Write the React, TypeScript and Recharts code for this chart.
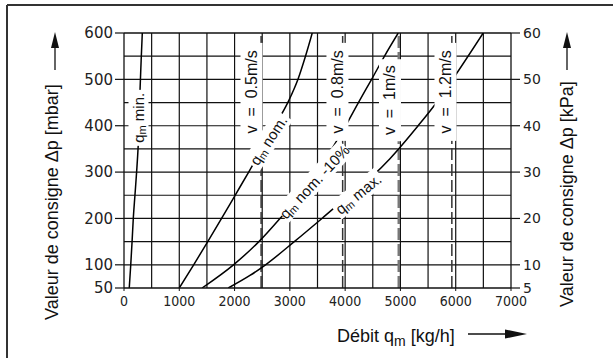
import React from 'react';
import { LineChart, Line, XAxis, YAxis, ReferenceLine, ReferenceDot } from 'recharts';

// axis ticks
const xTicks = [0, 1000, 2000, 3000, 4000, 5000, 6000, 7000];
const mbarTicks = [50, 100, 200, 300, 400, 500, 600];
const kpaTicks = [5, 10, 20, 30, 40, 50, 60];
const gridX = [500, 1000, 1500, 2000, 2500, 3000, 3500, 4000, 4500, 5000, 5500, 6000, 6500];
const gridY = [100, 150, 200, 250, 300, 350, 400, 450, 500, 550];

// curves: q = flow [kg/h], p = set point [mbar]
const qMin = [
  { q: 95, p: 50 }, { q: 122, p: 100 }, { q: 146, p: 150 }, { q: 168, p: 200 },
  { q: 198, p: 250 }, { q: 228, p: 300 }, { q: 256, p: 355 }, { q: 275, p: 410 },
  { q: 290, p: 477 }, { q: 310, p: 540 }, { q: 331, p: 600 },
];
const qNom = [
  { q: 1000, p: 50 }, { q: 1260, p: 100 }, { q: 1515, p: 150 }, { q: 1765, p: 200 },
  { q: 2010, p: 250 }, { q: 2255, p: 300 }, { q: 2495, p: 350 }, { q: 2730, p: 400 },
  { q: 2971, p: 452 }, { q: 3152, p: 502 }, { q: 3288, p: 552 }, { q: 3405, p: 600 },
];
const qNom10 = [
  { q: 1412, p: 50 }, { q: 1980, p: 100 }, { q: 2440, p: 150 }, { q: 2821, p: 200 },
  { q: 3180, p: 250 }, { q: 3490, p: 300 }, { q: 3760, p: 350 }, { q: 4010, p: 400 },
  { q: 4250, p: 452 }, { q: 4479, p: 500 }, { q: 4720, p: 552 }, { q: 4960, p: 600 },
];
const qMax = [
  { q: 1886, p: 50 }, { q: 2278, p: 77 }, { q: 2560, p: 100 }, { q: 3080, p: 150 },
  { q: 3580, p: 200 }, { q: 4070, p: 250 }, { q: 4508, p: 293 }, { q: 4810, p: 329 },
  { q: 5320, p: 400 }, { q: 5640, p: 448 }, { q: 5955, p: 502 }, { q: 6497, p: 600 },
];

// velocity lines
const velocityQ = [2480, 3955, 4970, 5930];
const velocityText = ['0.5m/s', '0.8m/s', '1m/s', '1.2m/s'];

// annotation anchors (data coords) for the curve labels
const curveLabels = [
  { q: 262, p: 417, rest: ' min.', angle: -90, w: 56 },
  { q: 2604, p: 369, rest: ' nom.', angle: -57, w: 60 },
  { q: 3436, p: 280, rest: ' nom. -10%', angle: -47, w: 94 },
  { q: 4232, p: 254, rest: ' max.', angle: -39, w: 58 },
];
const velocityLabels = [
  { q: 2306, p: 473, len: 98 },
  { q: 3861, p: 473, len: 98 },
  { q: 4811, p: 455, len: 82 },
  { q: 5815, p: 473, len: 98 },
];

const SANS = '"Liberation Sans", Arial, sans-serif';

const CurveLabel = ({ cx, cy, rest, angle, w }: any) => (
  <g transform={`translate(${cx},${cy}) rotate(${angle})`}>
    <rect x={-w / 2} y={-10} width={w} height={20} fill="#fff" />
    <text x={0} y={0} textAnchor="middle" dominantBaseline="central" fontFamily={SANS} fontSize={15} fill="#111">
      <tspan>q</tspan>
      <tspan dy={4} fontSize={11}>m</tspan>
      <tspan dy={-4}>{rest}</tspan>
    </text>
  </g>
);

const VelocityLabel = ({ cx, cy, text, len }: any) => (
  <g transform={`translate(${cx},${cy}) rotate(-90)`}>
    <rect x={-len / 2} y={-11} width={len} height={22} fill="#fff" />
    <text x={0} y={0} textAnchor="middle" dominantBaseline="central" fontFamily={SANS} fontSize={16} fill="#111" style={{ whiteSpace: 'pre' }}>
      {`v  =  ${text}`}
    </text>
  </g>
);

export default function App() {
  return (
    <div style={{ position: 'absolute', left: 0, top: 0, width: 613, height: 358, background: '#fff' }}>
      <LineChart width={613} height={358} margin={{ top: 33, right: 42, bottom: 40, left: 64 }}>
        <XAxis
          dataKey="q"
          type="number"
          domain={[0, 7000]}
          ticks={xTicks}
          allowDataOverflow
          height={30}
          tickSize={3}
          tickMargin={5}
          axisLine={{ stroke: '#111', strokeWidth: 1.3 }}
          tickLine={{ stroke: '#111' }}
          tick={{ fontSize: 14, fill: '#222', fontFamily: '"DejaVu Sans Condensed", "DejaVu Sans", sans-serif' }}
        />
        <YAxis
          yAxisId="left"
          type="number"
          domain={[50, 600]}
          ticks={mbarTicks}
          allowDataOverflow
          width={60}
          tickSize={9}
          tickMargin={2}
          axisLine={{ stroke: '#111', strokeWidth: 1.3 }}
          tickLine={{ stroke: '#111', strokeWidth: 1.2 }}
          tick={{ fontSize: 15, fill: '#222', fontFamily: '"DejaVu Sans", sans-serif' }}
        />
        <YAxis
          yAxisId="right"
          orientation="right"
          type="number"
          domain={[5, 60]}
          ticks={kpaTicks}
          allowDataOverflow
          width={60}
          tickSize={9}
          tickMargin={3}
          axisLine={{ stroke: '#111', strokeWidth: 1.3 }}
          tickLine={{ stroke: '#111', strokeWidth: 1.2 }}
          tick={{ fontSize: 14, fill: '#222', fontFamily: '"DejaVu Sans", sans-serif' }}
        />
        {gridX.map((v) => (
          <ReferenceLine key={`gx${v}`} x={v} yAxisId="left" stroke="#111" strokeWidth={1.2} />
        ))}
        {gridY.map((v) => (
          <ReferenceLine key={`gy${v}`} y={v} yAxisId="left" stroke="#111" strokeWidth={1.2} />
        ))}
        <ReferenceLine y={600} yAxisId="left" stroke="#111" strokeWidth={1.3} />
        {velocityQ.map((v, i) => (
          <ReferenceLine
            key={`v${v}`}
            x={v}
            yAxisId="left"
            stroke={i === 2 ? '#777' : '#333'}
            strokeWidth={i === 2 ? 2.5 : 1.5}
            strokeDasharray="12 4"
          />
        ))}
        <Line data={qMin} dataKey="p" yAxisId="left" type="monotone" stroke="#000" strokeWidth={1.5} dot={false} isAnimationActive={false} />
        <Line data={qNom} dataKey="p" yAxisId="left" type="monotone" stroke="#000" strokeWidth={1.5} dot={false} isAnimationActive={false} />
        <Line data={qNom10} dataKey="p" yAxisId="left" type="monotone" stroke="#000" strokeWidth={1.5} dot={false} isAnimationActive={false} />
        <Line data={qMax} dataKey="p" yAxisId="left" type="monotone" stroke="#000" strokeWidth={1.5} dot={false} isAnimationActive={false} />
        {curveLabels.map((l, i) => (
          <ReferenceDot
            key={`cl${i}`}
            x={l.q}
            y={l.p}
            yAxisId="left"
            r={1}
            shape={(props: any) => <CurveLabel cx={props.cx} cy={props.cy} rest={l.rest} angle={l.angle} w={l.w} />}
          />
        ))}
        {velocityLabels.map((l, i) => (
          <ReferenceDot
            key={`vl${i}`}
            x={l.q}
            y={l.p}
            yAxisId="left"
            r={1}
            shape={(props: any) => <VelocityLabel cx={props.cx} cy={props.cy} text={velocityText[i]} len={l.len} />}
          />
        ))}
      </LineChart>
      <svg width={613} height={358} style={{ position: 'absolute', left: 0, top: 0, pointerEvents: 'none' }}>
        <line x1={7} y1={5} x2={613} y2={5} stroke="#333" strokeWidth={2} />
        <line x1={7} y1={5} x2={7} y2={358} stroke="#333" strokeWidth={2} />
        <text transform="translate(58,320) rotate(-90)" fontFamily={SANS} fontSize={18} fill="#111">
          Valeur de consigne Δp [mbar]
        </text>
        <line x1={55} y1={70} x2={55} y2={46} stroke="#111" strokeWidth={1.3} />
        <polygon points="55,32 51,48 59,48" fill="#111" />
        <text transform="translate(573,307) rotate(-90)" fontFamily={SANS} fontSize={18} fill="#111">
          Valeur de consigne Δp [kPa]
        </text>
        <line x1={567} y1={70} x2={567} y2={46} stroke="#111" strokeWidth={1.3} />
        <polygon points="567,32 563,48 571,48" fill="#111" />
        <text x={337} y={341.5} fontFamily={SANS} fontSize={18} fill="#111">
          <tspan>Débit q</tspan>
          <tspan dy={4} fontSize={14}>m</tspan>
          <tspan dy={-4}> [kg/h]</tspan>
        </text>
        <line x1={468} y1={334} x2={507} y2={334} stroke="#111" strokeWidth={1.3} />
        <polygon points="527,334 505,329.5 505,338.5" fill="#111" />
      </svg>
    </div>
  );
}
